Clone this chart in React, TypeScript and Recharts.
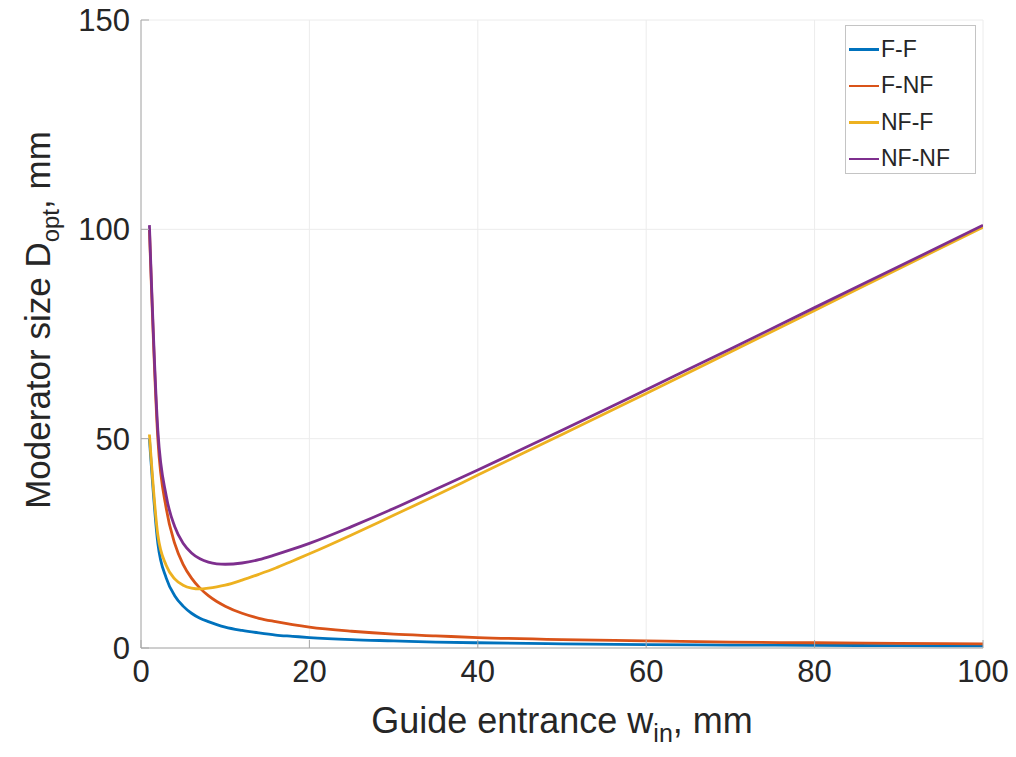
import { LineChart, Line, XAxis, YAxis, CartesianGrid } from "recharts";

// values
const widths = [1, 2, 3, 4, 5, 6, 7, 8, 9, 10, 12, 14, 16, 18, 20, 25, 30, 35, 40, 50, 60, 70, 80, 90, 100];
const ffValues = [50, 25, 16.7, 12.5, 10, 8.3, 7.1, 6.3, 5.6, 5, 4.2, 3.6, 3.1, 2.8, 2.5, 2, 1.7, 1.4, 1.25, 1, 0.83, 0.71, 0.63, 0.56, 0.5];
const fnfValues = [100, 50, 33.3, 25, 20, 16.7, 14.3, 12.5, 11.1, 10, 8.3, 7.1, 6.3, 5.6, 5, 4, 3.3, 2.9, 2.5, 2, 1.7, 1.4, 1.25, 1.1, 1];
const nffValues = [51, 27, 19.7, 16.5, 15, 14.3, 14.1, 14.3, 14.6, 15, 16.2, 17.6, 19.1, 20.8, 22.5, 27, 31.7, 36.4, 41.3, 51, 60.8, 70.7, 80.6, 90.6, 100.5];
const nfnfValues = [101, 52, 36.3, 29, 25, 22.7, 21.3, 20.5, 20.1, 20, 20.3, 21.1, 22.3, 23.6, 25, 29, 33.3, 37.9, 42.5, 52, 61.7, 71.4, 81.3, 91.1, 101];

const xTicks = [0, 20, 40, 60, 80, 100];
const yTicks = [0, 50, 100, 150];

const series = [
  { key: "ff", name: "F-F", color: "#0072BD" },
  { key: "fnf", name: "F-NF", color: "#D95319" },
  { key: "nff", name: "NF-F", color: "#EDB120" },
  { key: "nfnf", name: "NF-NF", color: "#7E2F8E" },
];

const data = widths.map((w, i) => ({
  w,
  ff: ffValues[i],
  fnf: fnfValues[i],
  nff: nffValues[i],
  nfnf: nfnfValues[i],
}));

const FONT = "'Liberation Sans', Arial, Helvetica, sans-serif";
const AXIS = "#a8a8a8";
const TEXT = "#262626";

const tickStyle = { fontSize: 31, fill: TEXT, fontFamily: FONT };

export default function App() {
  return (
    <div style={{ position: "absolute", left: 0, top: 0, width: 1016, height: 757, background: "#fff" }}>
      <LineChart
        width={1016}
        height={757}
        data={data}
        margin={{ top: 20, right: 33, bottom: 0, left: 0 }}
      >
        <CartesianGrid stroke="#ececec" vertical horizontal />
        <XAxis
          dataKey="w"
          type="number"
          domain={[0, 100]}
          ticks={xTicks}
          height={109}
          stroke={AXIS}
          tick={tickStyle}
          tickSize={-8}
          tickMargin={20}
          allowDataOverflow
          label={{
            content: (props: any) => {
              const vb = props.viewBox;
              return (
                <text
                  x={vb.x + vb.width / 2}
                  y={vb.y + 85}
                  textAnchor="middle"
                  fontSize={36}
                  fill={TEXT}
                  fontFamily={FONT}
                >
                  Guide entrance w
                  <tspan fontSize={25} dy={9}>in</tspan>
                  <tspan dy={-9}>, mm</tspan>
                </text>
              );
            },
          }}
        />
        <XAxis
          xAxisId="top"
          orientation="top"
          dataKey="w"
          type="number"
          domain={[0, 100]}
          ticks={xTicks}
          height={0}
          stroke={AXIS}
          tick={false}
          tickSize={-8}
          allowDataOverflow
        />
        <YAxis
          type="number"
          domain={[0, 150]}
          ticks={yTicks}
          width={141}
          stroke={AXIS}
          tick={tickStyle}
          tickSize={-8}
          tickMargin={19}
          allowDataOverflow
          label={{
            content: (props: any) => {
              const vb = props.viewBox;
              const cx = 50;
              const cy = vb.y + 300;
              return (
                <text
                  x={cx}
                  y={cy}
                  transform={`rotate(-90 ${cx} ${cy})`}
                  textAnchor="middle"
                  fontSize={35}
                  fill={TEXT}
                  fontFamily={FONT}
                >
                  Moderator size D
                  <tspan fontSize={24} dy={9}>opt</tspan>
                  <tspan dy={-9}>, mm</tspan>
                </text>
              );
            },
          }}
        />
        <YAxis
          yAxisId="right"
          orientation="right"
          type="number"
          domain={[0, 150]}
          ticks={yTicks}
          width={0}
          stroke={AXIS}
          tick={false}
          tickSize={-8}
          allowDataOverflow
        />
        {series.map((s) => (
          <Line
            key={s.key}
            type="monotone"
            dataKey={s.key}
            name={s.name}
            stroke={s.color}
            strokeWidth={2.8}
            strokeLinejoin="round"
            dot={false}
            isAnimationActive={false}
          />
        ))}
      </LineChart>
      <div
        style={{
          position: "absolute",
          left: 845,
          top: 25,
          width: 131,
          height: 149,
          border: "1px solid #c4c4c4",
          background: "#fff",
          fontFamily: FONT,
          fontSize: 23,
          color: TEXT,
          boxSizing: "border-box",
          paddingTop: 5,
        }}
      >
        {series.map((s) => (
          <div key={s.key} style={{ display: "flex", alignItems: "center", height: 36.5 }}>
            <span style={{ display: "inline-block", marginLeft: 3, width: 30, height: 2.5, background: s.color }} />
            <span style={{ marginLeft: 2 }}>{s.name}</span>
          </div>
        ))}
      </div>
    </div>
  );
}
